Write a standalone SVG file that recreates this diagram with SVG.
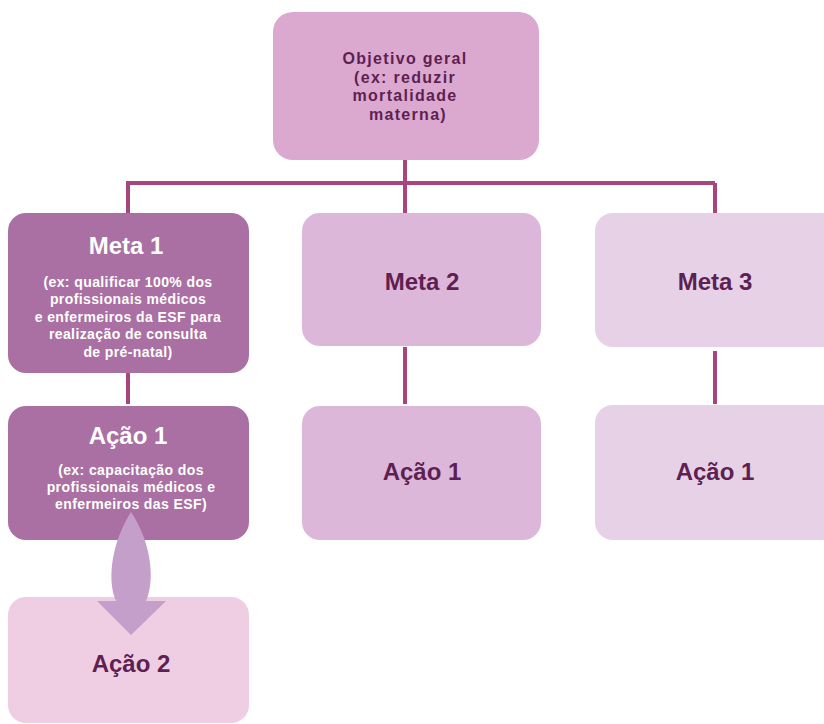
<svg xmlns="http://www.w3.org/2000/svg" width="824" height="724" viewBox="0 0 824 724">
<style>
.t{font-family:"Liberation Sans",Arial,sans-serif;font-weight:bold;text-anchor:middle}
.big{font-size:24px}
.mid{font-size:16px;letter-spacing:1.3px}
.sm{font-size:14px;letter-spacing:0.4px}
.dk{fill:#5E1F52}
.wh{fill:#FFFFFF}
.ln{stroke:#A8457F;stroke-width:4;fill:none}
</style>
<rect width="824" height="724" fill="#FFFFFF"/>
<g id="objetivo">
<rect x="273" y="12" width="266" height="148" rx="20" fill="#DBA9CF"/>
<text class="t mid dk" x="405" y="64">Objetivo geral</text>
<text class="t mid dk" x="405" y="82.5">(ex: reduzir</text>
<text class="t mid dk" x="405" y="101">mortalidade</text>
<text class="t mid dk" x="408" y="119.5">materna)</text>
</g>
<g id="meta1">
<rect x="8" y="213" width="241" height="160" rx="18" fill="#AA6FA3"/>
<text class="t big wh" x="126" y="254">Meta 1</text>
<text class="t sm wh" x="128" y="287">(ex: qualificar 100% dos</text>
<text class="t sm wh" x="128" y="304">profissionais médicos</text>
<text class="t sm wh" x="128" y="322">e enfermeiros da ESF para</text>
<text class="t sm wh" x="128" y="339">realização de consulta</text>
<text class="t sm wh" x="128" y="357">de pré-natal)</text>
</g>
<g id="acao1a">
<rect x="8" y="406" width="241" height="134" rx="18" fill="#AA6FA3"/>
<text class="t big wh" x="128" y="444">Ação 1</text>
<text class="t sm wh" x="131" y="475">(ex: capacitação dos</text>
<text class="t sm wh" x="131" y="492">profissionais médicos e</text>
<text class="t sm wh" x="131" y="509">enfermeiros das ESF)</text>
</g>
<g id="acao2">
<rect x="8" y="597" width="241" height="126" rx="18" fill="#EFCDE3"/>
<text class="t big dk" x="131" y="672">Ação 2</text>
</g>
<g id="meta2">
<rect x="302" y="213" width="239" height="133" rx="18" fill="#DDB7DA"/>
<text class="t big dk" x="422" y="290">Meta 2</text>
</g>
<g id="acao1b">
<rect x="302" y="406" width="239" height="134" rx="18" fill="#DDB7DA"/>
<text class="t big dk" x="422" y="480">Ação 1</text>
</g>
<g id="meta3">
<rect x="595" y="213" width="250" height="134" rx="18" fill="#E7D1E7"/>
<text class="t big dk" x="715" y="290">Meta 3</text>
</g>
<g id="acao1c">
<rect x="595" y="405" width="250" height="135" rx="18" fill="#E7D1E7"/>
<text class="t big dk" x="715" y="480">Ação 1</text>
</g>
<g id="connectors">
<path class="ln" d="M405,160 V183 M126,183 H715 M128,183 V213 M405,183 V213 M715,183 V213 M128,373 V404 M405,347 V404 M715,351 V404"/>
<path d="M131,512 C113,540 106,578 116,601 L97,601 L131,635 L166,601 L146,601 C156,578 150,540 131,512 Z" fill="#C39FCA"/>
</g>
</svg>
